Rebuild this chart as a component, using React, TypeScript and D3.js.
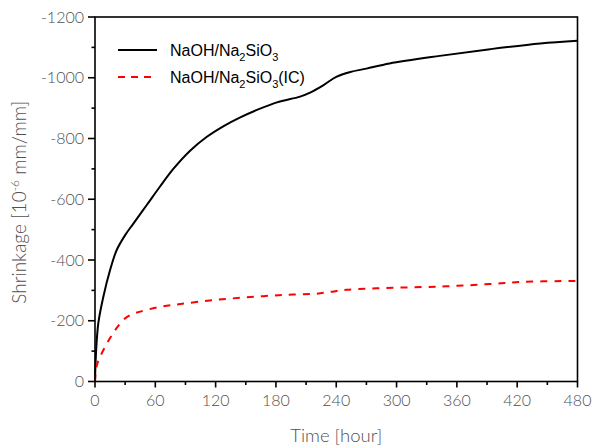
import React from "react";
import * as d3 from "d3";

const hoursA = [0, 1, 3.3, 8.3, 15, 21.6, 30, 38, 51.5, 64.7, 77.9, 94.6, 111, 128, 144, 161, 181, 204, 214, 227, 240, 254, 270, 293, 343, 393, 443, 480];
const shrinkA = [0, -94, -192, -279, -367, -433, -482, -519, -581, -642, -700, -760, -805, -841, -869, -894, -919, -938, -951, -975, -1003, -1019, -1030, -1047, -1072, -1094, -1113, -1122];

const hoursB = [0, 2, 10, 20, 28, 35, 45, 65, 85, 117, 151, 187, 220, 234, 250, 280, 327, 360, 393, 426, 473, 480];
const shrinkB = [0, -55, -114, -169, -202, -219, -230, -246, -255, -268, -277, -285, -289, -295, -302, -307, -311, -315, -321, -328, -331, -331];

const xTicks = [0, 60, 120, 180, 240, 300, 360, 420, 480];
const xMinor = [30, 90, 150, 210, 270, 330, 390, 450];
const yTicks = [0, -200, -400, -600, -800, -1000, -1200];
const yMinor = [-100, -300, -500, -700, -900, -1100];

const W = 593, H = 448;
const L = 95, R = 577.5, T = 17, B = 381.5;
const tickFont = "Lato, 'Open Sans', sans-serif";
const gray = "#505050";

export default function App() {
  const x = d3.scaleLinear().domain([0, 480]).range([L, R]);
  const y = d3.scaleLinear().domain([0, -1200]).range([B, T]);
  const line = d3.line<[number, number]>().x(d => x(d[0])).y(d => y(d[1])).curve(d3.curveCatmullRom.alpha(0.5));
  const dA = line(hoursA.map((h, i) => [h, shrinkA[i]] as [number, number])) || "";
  const dB = line(hoursB.map((h, i) => [h, shrinkB[i]] as [number, number])) || "";

  return (
    <svg width={W} height={H} style={{ position: "absolute", left: 0, top: 0, background: "#fff" }}>
      <path d={dA} fill="none" stroke="#000" strokeWidth={2} />
      <path d={dB} fill="none" stroke="#ff0000" strokeWidth={2} strokeDasharray="7,7" />
      {/* frame */}
      <rect x={L} y={T} width={R - L} height={B - T} fill="none" stroke="#000" strokeWidth={1.6} />
      {/* x ticks */}
      {xTicks.map(t => (
        <g key={"xt" + t}>
          <line x1={x(t)} x2={x(t)} y1={B} y2={B + 6} stroke="#000" strokeWidth={1.6} />
          <text x={x(t)} y={406} textAnchor="middle" fontFamily={tickFont} fontWeight={300} fontSize={16} fill={gray}>{t}</text>
        </g>
      ))}
      {xMinor.map(t => (
        <line key={"xm" + t} x1={x(t)} x2={x(t)} y1={B} y2={B + 3.5} stroke="#000" strokeWidth={1.6} />
      ))}
      {/* y ticks */}
      {yTicks.map(t => (
        <g key={"yt" + t}>
          <line x1={L - 7} x2={L} y1={y(t)} y2={y(t)} stroke="#000" strokeWidth={1.6} />
          <text x={84} y={y(t) + 5.5} textAnchor="end" fontFamily={tickFont} fontWeight={300} fontSize={16} fill={gray}>{t}</text>
        </g>
      ))}
      {yMinor.map(t => (
        <line key={"ym" + t} x1={L - 3.5} x2={L} y1={y(t)} y2={y(t)} stroke="#000" strokeWidth={1.6} />
      ))}
      {/* axis titles */}
      <text x={(L + R) / 2} y={442} textAnchor="middle" fontFamily={tickFont} fontWeight={300} fontSize={18.5} fill={gray}>Time [hour]</text>
      <text transform={`translate(26,${(T + B) / 2 + 3}) rotate(-90)`} textAnchor="middle" fontFamily={tickFont} fontWeight={300} fontSize={19} fill={gray}>
        Shrinkage [10<tspan dy={-7} fontSize={12}>-6</tspan><tspan dy={7}> mm/mm]</tspan>
      </text>
      {/* legend */}
      <line x1={118} x2={157} y1={50} y2={50} stroke="#000" strokeWidth={2} />
      <text x={170} y={56} fontFamily="'Liberation Sans', Arial, sans-serif" fontSize={16} fill="#000">
        NaOH/Na<tspan dy={5} fontSize={11}>2</tspan><tspan dy={-5}>SiO</tspan><tspan dy={5} fontSize={11}>3</tspan>
      </text>
      <line x1={118} x2={157} y1={77} y2={77} stroke="#ff0000" strokeWidth={2} strokeDasharray="7,6" />
      <text x={170} y={83} fontFamily="'Liberation Sans', Arial, sans-serif" fontSize={16} fill="#000">
        NaOH/Na<tspan dy={5} fontSize={11}>2</tspan><tspan dy={-5}>SiO</tspan><tspan dy={5} fontSize={11}>3</tspan><tspan dy={-5}>(IC)</tspan>
      </text>
    </svg>
  );
}
